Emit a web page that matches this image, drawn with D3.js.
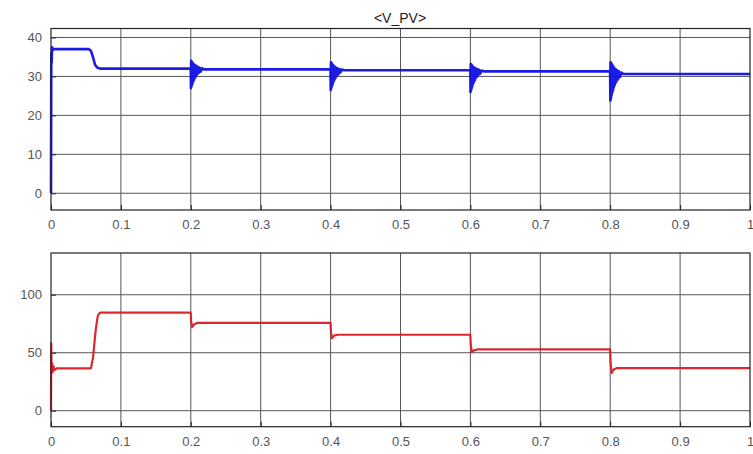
<!DOCTYPE html>
<html><head><meta charset="utf-8">
<script src="https://cdn.jsdelivr.net/npm/d3@7"></script>
<style>body{margin:0;background:#fff;} svg{display:block;}</style>
</head><body>
<svg id="c" width="753" height="454"></svg>
<script>
const title = "<V_PV>";
const xTicks = [0,0.1,0.2,0.3,0.4,0.5,0.6,0.7,0.8,0.9,1];
const yTicksTop = [0,10,20,30,40];
const yTicksBottom = [0,50,100];
// V_PV (blue) : time, value
const vpvT = [0,0.0004,0.001,0.0015,0.002,0.003,0.054,0.057,0.060,0.063,0.066,0.070,
  0.1999,0.2002,0.2005,0.2008,0.2011,0.2014,0.2017,0.2021,0.2025,0.2029,0.2034,0.2039,0.2045,0.2051,0.2058,0.2066,0.2075,0.2085,0.2097,0.211,0.2125,0.214,0.216,0.219,
  0.3999,0.4002,0.4005,0.4008,0.4011,0.4014,0.4017,0.4021,0.4025,0.4029,0.4034,0.4039,0.4045,0.4051,0.4058,0.4066,0.4075,0.4085,0.4097,0.411,0.4125,0.414,0.416,0.419,
  0.5999,0.6002,0.6005,0.6008,0.6011,0.6014,0.6017,0.6021,0.6025,0.6029,0.6034,0.6039,0.6045,0.6051,0.6058,0.6066,0.6075,0.6085,0.6097,0.611,0.6125,0.614,0.616,0.619,
  0.7999,0.8002,0.8005,0.8008,0.8011,0.8014,0.8017,0.8021,0.8025,0.8029,0.8034,0.8039,0.8045,0.8051,0.8058,0.8066,0.8075,0.8085,0.8097,0.811,0.8125,0.814,0.816,0.819,1];
const vpvV = [0,36,33.5,37.5,36.5,37,37,36.6,35,33,32.3,32,
  32,27,34,27.3,33.9,27.7,33.7,28,33.5,28.4,33.3,28.8,33.1,29.3,32.9,29.8,32.7,30.3,32.5,30.8,32.3,31.2,32.1,31.8,
  31.8,26.5,33.6,26.8,33.5,27.2,33.3,27.6,33.1,28,32.9,28.5,32.7,29,32.5,29.5,32.3,30,32.1,30.5,31.9,31,31.8,31.6,
  31.6,26,33.2,26.3,33.1,26.7,32.9,27.1,32.7,27.6,32.5,28.1,32.4,28.6,32.2,29.1,32,29.7,31.9,30.2,31.7,30.7,31.5,31.3,
  31.3,23.8,33.6,24.1,33.5,24.6,33.3,25.2,33.1,25.8,32.8,26.4,32.5,27.1,32.2,27.8,31.9,28.5,31.6,29.2,31.3,29.8,31,30.6,30.6];
// P_PV (red) : time, value
const ppvT = [0,0.0003,0.0008,0.0015,0.0025,0.0035,0.005,0.008,0.057,0.060,0.064,0.067,0.070,
  0.1999,0.2005,0.202,0.205,0.21,
  0.3999,0.4005,0.402,0.405,0.41,
  0.5999,0.6005,0.602,0.605,0.61,
  0.7999,0.8005,0.802,0.805,0.81,1];
const ppvV = [0,58,32,41,33.5,38.5,35,36.5,36.5,45,70,82,84.5,
  84.5,77,72,74.5,75.8,
  75.8,68,62.5,64.8,65.5,
  65.5,57,50.5,52,52.8,
  52.8,42,32.5,35.5,36.8,36.8];

const svg = d3.select("#c");
const X0 = 51, X1 = 750;
const panels = [
  {top:28.5, bottom:210, dom:[-4.3,42.3], ticks:yTicksTop, t:vpvT, v:vpvV, color:"#1010e0", w:2.6},
  {top:253, bottom:426.7, dom:[-13.8,136], ticks:yTicksBottom, t:ppvT, v:ppvV, color:"#d81c24", w:2.2}
];
const x = d3.scaleLinear().domain([0,1]).range([X0,X1]);
const fmt = d => d===0 ? "0" : (d===1 ? "1" : d3.format(".1f")(d));

panels.forEach((p,i)=>{
  const y = d3.scaleLinear().domain(p.dom).range([p.bottom,p.top]);
  const g = svg.append("g");
  g.append("rect").attr("x",X0).attr("y",p.top).attr("width",X1-X0).attr("height",p.bottom-p.top).attr("fill","#fff");
  g.selectAll(".gx").data(xTicks.slice(1,-1)).join("line")
    .attr("x1",d=>x(d)).attr("x2",d=>x(d)).attr("y1",p.top).attr("y2",p.bottom)
    .attr("stroke","#555").attr("stroke-width",1);
  g.selectAll(".gy").data(p.ticks).join("line")
    .attr("x1",X0).attr("x2",X1).attr("y1",d=>y(d)).attr("y2",d=>y(d))
    .attr("stroke","#555").attr("stroke-width",1);
  const ax = d3.axisBottom(x).tickValues(xTicks).tickFormat(fmt).tickSizeInner(-5).tickSizeOuter(0).tickPadding(10);
  const gx = g.append("g").attr("transform",`translate(0,${p.bottom})`).call(ax);
  gx.select(".domain").remove();
  gx.selectAll("line").attr("stroke","#222");
  gx.selectAll("text").attr("font-family","Liberation Sans, Arial, sans-serif").attr("font-size",13).attr("fill","#555");
  const ay = d3.axisLeft(y).tickValues(p.ticks).tickFormat(d3.format("d")).tickSizeInner(-5).tickSizeOuter(0).tickPadding(9);
  const gy = g.append("g").attr("transform",`translate(${X0},0)`).call(ay);
  gy.select(".domain").remove();
  gy.selectAll("line").attr("stroke","#222");
  gy.selectAll("text").attr("font-family","Liberation Sans, Arial, sans-serif").attr("font-size",13).attr("fill","#555");
  const pts = p.t.map((t,k)=>[t,p.v[k]]);
  const line = d3.line().x(d=>x(d[0])).y(d=>y(d[1]));
  g.append("path").datum(pts).attr("d",line).attr("fill","none")
    .attr("stroke",p.color).attr("stroke-width",p.w).attr("stroke-linejoin","round").attr("opacity",0.95);
  g.append("rect").attr("x",X0).attr("y",p.top).attr("width",X1-X0).attr("height",p.bottom-p.top)
    .attr("fill","none").attr("stroke","#222").attr("stroke-width",1.2);
});
svg.append("text").attr("x",400).attr("y",23).attr("text-anchor","middle")
  .attr("font-family","Liberation Sans, Arial, sans-serif").attr("font-size",14).attr("fill","#222").text(title);
</script>
</body></html>
